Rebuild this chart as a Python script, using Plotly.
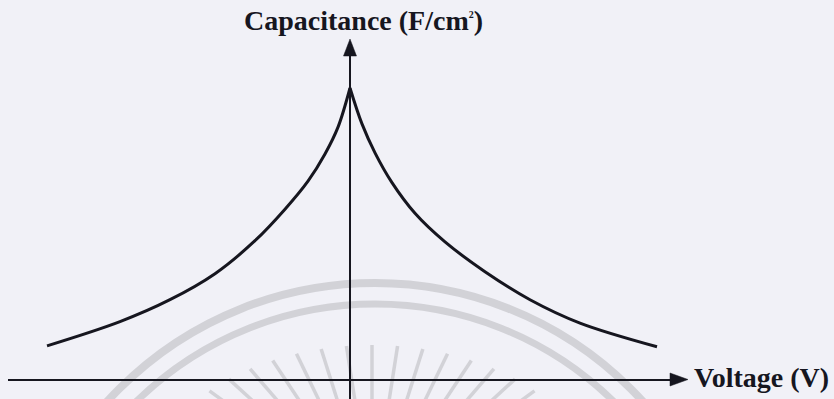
import math
import plotly.graph_objects as go

W, H = 834, 399

# C-V curve: normalised capacitance against gate voltage (arbitrary units)
v_neg = [-0.9934, -0.7541, -0.5902, -0.4426, -0.3115, -0.2131, -0.1377, -0.082, -0.0393, 0.0]
c_neg = [0.117, 0.200, 0.275, 0.364, 0.477, 0.585, 0.681, 0.774, 0.866, 1.0]
v_pos = [0.0, 0.0393, 0.082, 0.1377, 0.2131, 0.3115, 0.4426, 0.5902, 0.7541, 1.0066]
c_pos = [1.0, 0.877, 0.778, 0.676, 0.571, 0.473, 0.371, 0.275, 0.195, 0.114]

x_title = "Voltage (V)"
y_title = "Capacitance (F/cm<sup><span style='font-size:10px'>2</span></sup>)"

X_RANGE = [-350 / 305, 484 / 305]
Y_RANGE = [-19 / 292, 380 / 292]

INK = "#16161f"
BG = "#f1f1f7"
MARK = "#d2d2d7"


def px_x(px):
    return X_RANGE[0] + px / W * (X_RANGE[1] - X_RANGE[0])


def px_y(py):
    return Y_RANGE[1] - py / H * (Y_RANGE[1] - Y_RANGE[0])


fig = go.Figure()
for vs, cs in ((v_neg, c_neg), (v_pos, c_pos)):
    fig.add_trace(go.Scatter(
        x=vs, y=cs, mode="lines",
        line=dict(color=INK, width=3, shape="spline", smoothing=1.0),
        hoverinfo="skip", showlegend=False,
    ))

shapes = []

# faint emblem behind the plot: two arcs and a fan of rays
for (cx, cy, r, w) in ((375, 645, 362, 8), (375, 645, 341, 7)):
    shapes.append(dict(
        type="circle", xref="x", yref="y", layer="below",
        x0=px_x(cx - r), x1=px_x(cx + r), y0=px_y(cy + r), y1=px_y(cy - r),
        line=dict(color=MARK, width=w),
    ))
rc_x, rc_y = 372, 510
for k in range(-8, 9):
    th = math.radians(k * 6.25)
    tx = rc_x + 235 * math.sin(th)
    ty = rc_y - 165 * math.cos(th)
    dx, dy = rc_x - tx, rc_y - ty
    d = math.hypot(dx, dy)
    bx = tx + dx / d * 70
    by = ty + dy / d * 70
    shapes.append(dict(
        type="line", xref="x", yref="y", layer="below",
        x0=px_x(tx), y0=px_y(ty), x1=px_x(bx), y1=px_y(by),
        line=dict(color=MARK, width=3.5),
    ))

# axes with arrowheads
shapes.append(dict(type="line", xref="x", yref="y",
                   x0=px_x(8), x1=px_x(672), y0=0, y1=0,
                   line=dict(color=INK, width=1.8)))
shapes.append(dict(type="line", xref="x", yref="y",
                   x0=0, x1=0, y0=px_y(H + 2), y1=px_y(54),
                   line=dict(color=INK, width=2)))
ax_tip, ax_len, ax_half = 688, 18, 6.5
shapes.append(dict(
    type="path", xref="x", yref="y",
    path=(f"M{px_x(ax_tip)},{px_y(379.5)} "
          f"L{px_x(ax_tip - ax_len)},{px_y(379.5 - ax_half)} "
          f"L{px_x(ax_tip - ax_len)},{px_y(379.5 + ax_half)} Z"),
    fillcolor=INK, line=dict(color=INK, width=0.5),
))
ay_tip, ay_len, ay_half = 39, 17, 6.5
shapes.append(dict(
    type="path", xref="x", yref="y",
    path=(f"M{px_x(350)},{px_y(ay_tip)} "
          f"L{px_x(350 - ay_half)},{px_y(ay_tip + ay_len)} "
          f"L{px_x(350 + ay_half)},{px_y(ay_tip + ay_len)} Z"),
    fillcolor=INK, line=dict(color=INK, width=0.5),
))

font = dict(family="Liberation Serif", size=28, color=INK)
annotations = [
    dict(text=f"<b>{y_title}</b>", xref="paper", yref="paper",
         x=242 / W, y=1 - 21 / H, xanchor="left", yanchor="middle",
         showarrow=False, font=font),
    dict(text=f"<b>{x_title}</b>", xref="paper", yref="paper",
         x=692 / W, y=1 - 377.5 / H, xanchor="left", yanchor="middle",
         showarrow=False, font=font),
]

fig.update_layout(
    width=W, height=H,
    margin=dict(l=0, r=0, t=0, b=0),
    paper_bgcolor=BG, plot_bgcolor=BG,
    font=dict(family="Liberation Serif"),
    xaxis=dict(range=X_RANGE, visible=False, fixedrange=True),
    yaxis=dict(range=Y_RANGE, visible=False, fixedrange=True),
    shapes=shapes, annotations=annotations,
    showlegend=False,
)

fig.write_html("out.html")
